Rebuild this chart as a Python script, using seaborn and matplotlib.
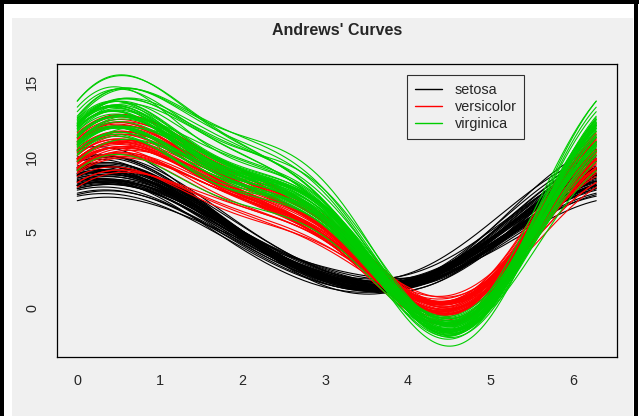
import numpy as np
import pandas as pd
import matplotlib
matplotlib.use("Agg")
import matplotlib.pyplot as plt
from matplotlib.lines import Line2D
from matplotlib.patches import Rectangle
import seaborn as sns

# Fisher's iris measurements (rows 1-150)
sepal_length = [
    5.1, 4.9, 4.7, 4.6, 5.0, 5.4, 4.6, 5.0, 4.4, 4.9, 5.4, 4.8, 4.8, 4.3, 5.8, 5.7, 5.4, 5.1, 5.7, 5.1,
    5.4, 5.1, 4.6, 5.1, 4.8, 5.0, 5.0, 5.2, 5.2, 4.7, 4.8, 5.4, 5.2, 5.5, 4.9, 5.0, 5.5, 4.9, 4.4, 5.1,
    5.0, 4.5, 4.4, 5.0, 5.1, 4.8, 5.1, 4.6, 5.3, 5.0,
    7.0, 6.4, 6.9, 5.5, 6.5, 5.7, 6.3, 4.9, 6.6, 5.2, 5.0, 5.9, 6.0, 6.1, 5.6, 6.7, 5.6, 5.8, 6.2, 5.6,
    5.9, 6.1, 6.3, 6.1, 6.4, 6.6, 6.8, 6.7, 6.0, 5.7, 5.5, 5.5, 5.8, 6.0, 5.4, 6.0, 6.7, 6.3, 5.6, 5.5,
    5.5, 6.1, 5.8, 5.0, 5.6, 5.7, 5.7, 6.2, 5.1, 5.7,
    6.3, 5.8, 7.1, 6.3, 6.5, 7.6, 4.9, 7.3, 6.7, 7.2, 6.5, 6.4, 6.8, 5.7, 5.8, 6.4, 6.5, 7.7, 7.7, 6.0,
    6.9, 5.6, 7.7, 6.3, 6.7, 7.2, 6.2, 6.1, 6.4, 7.2, 7.4, 7.9, 6.4, 6.3, 6.1, 7.7, 6.3, 6.4, 6.0, 6.9,
    6.7, 6.9, 5.8, 6.8, 6.7, 6.7, 6.3, 6.5, 6.2, 5.9,
]
sepal_width = [
    3.5, 3.0, 3.2, 3.1, 3.6, 3.9, 3.4, 3.4, 2.9, 3.1, 3.7, 3.4, 3.0, 3.0, 4.0, 4.4, 3.9, 3.5, 3.8, 3.8,
    3.4, 3.7, 3.6, 3.3, 3.4, 3.0, 3.4, 3.5, 3.4, 3.2, 3.1, 3.4, 4.1, 4.2, 3.1, 3.2, 3.5, 3.6, 3.0, 3.4,
    3.5, 2.3, 3.2, 3.5, 3.8, 3.0, 3.8, 3.2, 3.7, 3.3,
    3.2, 3.2, 3.1, 2.3, 2.8, 2.8, 3.3, 2.4, 2.9, 2.7, 2.0, 3.0, 2.2, 2.9, 2.9, 3.1, 3.0, 2.7, 2.2, 2.5,
    3.2, 2.8, 2.5, 2.8, 2.9, 3.0, 2.8, 3.0, 2.9, 2.6, 2.4, 2.4, 2.7, 2.7, 3.0, 3.4, 3.1, 2.3, 3.0, 2.5,
    2.6, 3.0, 2.6, 2.3, 2.7, 3.0, 2.9, 2.9, 2.5, 2.8,
    3.3, 2.7, 3.0, 2.9, 3.0, 3.0, 2.5, 2.9, 2.5, 3.6, 3.2, 2.7, 3.0, 2.5, 2.8, 3.2, 3.0, 3.8, 2.6, 2.2,
    3.2, 2.8, 2.8, 2.7, 3.3, 3.2, 2.8, 3.0, 2.8, 3.0, 2.8, 3.8, 2.8, 2.8, 2.6, 3.0, 3.4, 3.1, 3.0, 3.1,
    3.1, 3.1, 2.7, 3.2, 3.3, 3.0, 2.5, 3.0, 3.4, 3.0,
]
petal_length = [
    1.4, 1.4, 1.3, 1.5, 1.4, 1.7, 1.4, 1.5, 1.4, 1.5, 1.5, 1.6, 1.4, 1.1, 1.2, 1.5, 1.3, 1.4, 1.7, 1.5,
    1.7, 1.5, 1.0, 1.7, 1.9, 1.6, 1.6, 1.5, 1.4, 1.6, 1.6, 1.5, 1.5, 1.4, 1.5, 1.2, 1.3, 1.4, 1.3, 1.5,
    1.3, 1.3, 1.3, 1.6, 1.9, 1.4, 1.6, 1.4, 1.5, 1.4,
    4.7, 4.5, 4.9, 4.0, 4.6, 4.5, 4.7, 3.3, 4.6, 3.9, 3.5, 4.2, 4.0, 4.7, 3.6, 4.4, 4.5, 4.1, 4.5, 3.9,
    4.8, 4.0, 4.9, 4.7, 4.3, 4.4, 4.8, 5.0, 4.5, 3.5, 3.8, 3.7, 3.9, 5.1, 4.5, 4.5, 4.7, 4.4, 4.1, 4.0,
    4.4, 4.6, 4.0, 3.3, 4.2, 4.2, 4.2, 4.3, 3.0, 4.1,
    6.0, 5.1, 5.9, 5.6, 5.8, 6.6, 4.5, 6.3, 5.8, 6.1, 5.1, 5.3, 5.5, 5.0, 5.1, 5.3, 5.5, 6.7, 6.9, 5.0,
    5.7, 4.9, 6.7, 4.9, 5.7, 6.0, 4.8, 4.9, 5.6, 5.8, 6.1, 6.4, 5.6, 5.1, 5.6, 6.1, 5.6, 5.5, 4.8, 5.4,
    5.6, 5.1, 5.1, 5.9, 5.7, 5.2, 5.0, 5.2, 5.4, 5.1,
]
petal_width = [
    0.2, 0.2, 0.2, 0.2, 0.2, 0.4, 0.3, 0.2, 0.2, 0.1, 0.2, 0.2, 0.1, 0.1, 0.2, 0.4, 0.4, 0.3, 0.3, 0.3,
    0.2, 0.4, 0.2, 0.5, 0.2, 0.2, 0.4, 0.2, 0.2, 0.2, 0.2, 0.4, 0.1, 0.2, 0.2, 0.2, 0.2, 0.1, 0.2, 0.2,
    0.3, 0.3, 0.2, 0.6, 0.4, 0.3, 0.2, 0.2, 0.2, 0.2,
    1.4, 1.5, 1.5, 1.3, 1.5, 1.3, 1.6, 1.0, 1.3, 1.4, 1.0, 1.5, 1.0, 1.4, 1.3, 1.4, 1.5, 1.0, 1.5, 1.1,
    1.8, 1.3, 1.5, 1.2, 1.3, 1.4, 1.4, 1.7, 1.5, 1.0, 1.1, 1.0, 1.2, 1.6, 1.5, 1.6, 1.5, 1.3, 1.3, 1.3,
    1.2, 1.4, 1.2, 1.0, 1.3, 1.2, 1.3, 1.3, 1.1, 1.3,
    2.5, 1.9, 2.1, 1.8, 2.2, 2.1, 1.7, 1.8, 1.8, 2.5, 2.0, 1.9, 2.1, 2.0, 2.4, 2.3, 1.8, 2.2, 2.3, 1.5,
    2.3, 2.0, 2.0, 1.8, 2.1, 1.8, 1.8, 1.8, 2.1, 1.6, 1.9, 2.0, 2.2, 1.5, 1.4, 2.3, 2.4, 1.8, 1.8, 2.1,
    2.4, 2.3, 1.9, 2.3, 2.5, 2.3, 1.9, 2.0, 2.3, 1.8,
]
species_names = ["setosa", "versicolor", "virginica"]
species = [name for name in species_names for _ in range(50)]
species_colors = ["black", "#FF0000", "#00CD00"]

bg = "#F0F0F0"


def main():
    t = np.linspace(0, 2 * np.pi, 200)
    rows = []
    for i in range(len(sepal_length)):
        f = (sepal_length[i] + petal_length[i] * np.sin(t)
             + sepal_width[i] * np.cos(t) + petal_width[i] * np.cos(2 * t))
        rows.append(pd.DataFrame({"t": t, "f": f, "id": i, "species": species[i]}))
    curves = pd.concat(rows, ignore_index=True)

    sns.set_style("white")
    plt.rcParams["font.family"] = ["Liberation Sans", "DejaVu Sans"]

    W, H = 639, 416
    fig = plt.figure(figsize=(W / 100, H / 100), dpi=100, facecolor="white")
    # window: white margin, gray device area, black border on three sides
    fig.patches.append(Rectangle((12 / W, 0), (633 - 12) / W, (H - 18) / H,
                                 transform=fig.transFigure, facecolor=bg,
                                 edgecolor="none", zorder=-5))
    for x0, y0, w, h in [(0, 0, 4, H), (0, H - 4, W, 4), (634, 0, 4, H)]:
        fig.patches.append(Rectangle((x0 / W, y0 / H), w / W, h / H,
                                     transform=fig.transFigure, facecolor="black",
                                     edgecolor="none", zorder=-4))

    ax = fig.add_axes([56.5 / W, 1 - 357 / H, (617 - 56.5) / W, (357 - 64) / H])
    ax.set_facecolor(bg)

    sns.lineplot(data=curves, x="t", y="f", hue="species", units="id",
                 estimator=None, sort=False, palette=species_colors,
                 hue_order=species_names, lw=0.8, legend=False, ax=ax)

    ax.set_xlim(-2 * np.pi * 0.04, 2 * np.pi * 1.04)
    lo, hi = curves["f"].min(), curves["f"].max()
    pad = (hi - lo) * 0.04
    ax.set_ylim(lo - pad, hi + pad)
    ax.set_xticks(range(0, 7))
    ax.set_yticks([0, 5, 10, 15])
    ax.set_xlabel("")
    ax.set_ylabel("")
    for s in ax.spines.values():
        s.set_color("black")
        s.set_linewidth(0.9)
    ax.tick_params(axis="both", direction="out", length=6.5, width=0.8,
                   color="#333333", labelsize=10.4, pad=6)
    plt.setp(ax.get_yticklabels(), rotation=90, va="center")
    ax.set_title("Andrews' Curves", fontsize=11.5, fontweight="bold", pad=21)

    handles = [Line2D([0], [0], color=c, lw=1) for c in species_colors]
    leg = ax.legend(handles, species_names, loc="upper left",
                    bbox_to_anchor=(0.625, 0.962), borderaxespad=0,
                    fontsize=10.4, frameon=True, fancybox=False,
                    handlelength=1.9, handletextpad=0.85, labelspacing=0.22,
                    borderpad=0.55)
    leg.get_frame().set_edgecolor("black")
    leg.get_frame().set_facecolor(bg)
    leg.get_frame().set_linewidth(0.8)

    fig.savefig("out.png", dpi=100, facecolor="white")


if __name__ == "__main__":
    main()
